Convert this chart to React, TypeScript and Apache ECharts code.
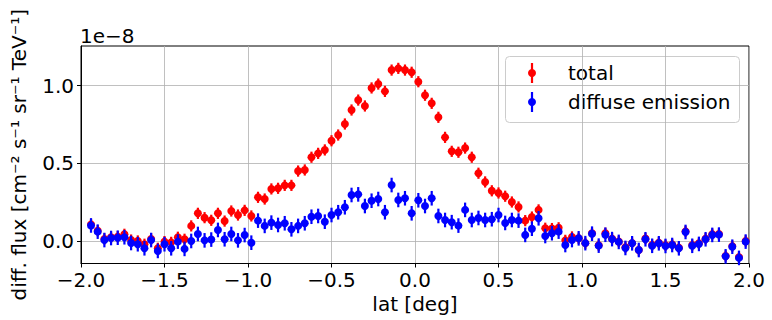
import React, { useEffect, useRef } from "react";
import * as echarts from "echarts";

const lat = [
  -1.94, -1.9, -1.86, -1.82, -1.78, -1.74, -1.7, -1.66, -1.62, -1.58, -1.54, -1.5, -1.46, -1.42, -1.38, -1.34,
  -1.3, -1.26, -1.22, -1.18, -1.14, -1.1, -1.06, -1.02, -0.98, -0.94, -0.9, -0.86, -0.82, -0.78, -0.74, -0.7,
  -0.66, -0.62, -0.58, -0.54, -0.5, -0.46, -0.42, -0.38, -0.34, -0.3, -0.26, -0.22, -0.18, -0.14, -0.1, -0.06,
  -0.02, 0.02, 0.06, 0.1, 0.14, 0.18, 0.22, 0.26, 0.3, 0.34, 0.38, 0.42, 0.46, 0.5, 0.54, 0.58, 0.62, 0.66, 0.7,
  0.74, 0.78, 0.82, 0.86, 0.9, 0.94, 0.98, 1.02, 1.06, 1.1, 1.14, 1.18, 1.22, 1.26, 1.3, 1.34, 1.38, 1.42, 1.46,
  1.5, 1.54, 1.58, 1.62, 1.66, 1.7, 1.74, 1.78, 1.82, 1.86, 1.9, 1.94, 1.98,
];

// values in units of 1e-8 cm^-2 s^-1 sr^-1 TeV^-1
const total = [
  0.107, 0.066, 0.013, 0.024, 0.028, 0.043, 0.006, 0.0, -0.021, 0.013, -0.047, -0.004, -0.009, 0.024, 0.011, 0.097,
  0.178, 0.15, 0.133, 0.178, 0.128, 0.193, 0.167, 0.197, 0.161, 0.281, 0.27, 0.335, 0.339, 0.358, 0.358, 0.45,
  0.457, 0.539, 0.564, 0.586, 0.645, 0.682, 0.753, 0.843, 0.907, 0.869, 0.985, 1.01, 0.963, 1.1, 1.111, 1.1,
  1.086, 1.025, 0.938, 0.886, 0.796, 0.667, 0.577, 0.571, 0.598, 0.539, 0.436, 0.38, 0.323, 0.309, 0.288, 0.251,
  0.219, 0.131, 0.154, 0.2, 0.082, 0.08, 0.085, 0.004, 0.026, 0.017, -0.014, 0.05, -0.028, 0.05, 0.015, -0.003,
  -0.04, -0.014, -0.058, 0.016, -0.025, -0.012, -0.028, -0.022, -0.043, 0.062, -0.026, -0.015, 0.015, 0.044,
  0.045, -0.097, -0.033, -0.104, 0.0,
];

const diffuse = [
  0.1, 0.06, 0.006, 0.019, 0.021, 0.024, -0.013, -0.021, -0.047, 0.006, -0.064, -0.021, -0.047, -0.004, -0.051, 0.0,
  0.045, 0.004, 0.009, 0.071, 0.011, 0.045, 0.004, 0.038, -0.011, 0.131, 0.097, 0.118, 0.103, 0.114, 0.075, 0.097,
  0.114, 0.156, 0.161, 0.124, 0.167, 0.185, 0.217, 0.296, 0.3, 0.225, 0.259, 0.27, 0.185, 0.36, 0.264, 0.275,
  0.178, 0.262, 0.225, 0.275, 0.161, 0.135, 0.121, 0.099, 0.2, 0.135, 0.148, 0.135, 0.14, 0.167, 0.116, 0.135,
  0.131, 0.039, 0.079, 0.146, 0.032, 0.05, 0.06, -0.026, 0.006, 0.017, -0.014, 0.047, -0.03, 0.04, 0.012, -0.006,
  -0.045, -0.015, -0.058, 0.011, -0.031, -0.015, -0.032, -0.026, -0.047, 0.058, -0.031, -0.019, 0.011, 0.039,
  0.041, -0.099, -0.037, -0.109, -0.004,
];

const totalErr = 0.036;
const diffuseErr = 0.047;

const yTicks = [0, 0.5, 1.0];

const FONT = "DejaVu Sans";
const FS = 20;
const fmt = (v: number) => v.toFixed(1).replace("-", "\u2212");

function errSeries(name: string, vals: number[], err: number, color: string) {
  return {
    type: "custom",
    name,
    data: lat.map((x, i) => [x, vals[i], err]),
    renderItem: (params: any, api: any) => {
      const x = api.value(0);
      const y = api.value(1);
      const e = api.value(2);
      const p = api.coord([x, y]);
      const t = api.coord([x, y + e]);
      const b = api.coord([x, y - e]);
      return {
        type: "group",
        children: [
          { type: "line", shape: { x1: p[0], y1: t[1], x2: p[0], y2: b[1] }, style: { stroke: color, lineWidth: 2.2 } },
          { type: "circle", shape: { cx: p[0], cy: p[1], r: 4 }, style: { fill: color } },
        ],
      };
    },
  };
}

export default function App() {
  const ref = useRef<HTMLDivElement>(null);
  useEffect(() => {
    if (!ref.current) return;
    const chart = echarts.init(ref.current, null, { renderer: "svg" });
    const legendEntry = (y: number, color: string, label: string) => [
      { type: "line", shape: { x1: 532, y1: y - 10, x2: 532, y2: y + 10 }, style: { stroke: color, lineWidth: 2.2 } },
      { type: "circle", shape: { cx: 532, cy: y, r: 4 }, style: { fill: color } },
      {
        type: "text",
        x: 568,
        y: y,
        style: { text: label, font: `${FS}px '${FONT}'`, fill: "#000", textVerticalAlign: "middle" },
      },
    ];
    chart.setOption({
      animation: false,
      grid: {
        left: 81,
        top: 46,
        right: 23,
        bottom: 56.5,
        show: true,
        borderColor: "#000",
        borderWidth: 1,
        backgroundColor: "transparent",
        outerBoundsMode: "none",
        containLabel: false,
      },
      xAxis: {
        type: "value",
        min: -2,
        max: 2,
        interval: 0.5,
        name: "lat [deg]",
        nameLocation: "middle",
        nameGap: 24,
        nameTextStyle: { fontFamily: FONT, fontSize: FS, color: "#000" },
        axisLine: { show: true, onZero: false, lineStyle: { color: "#000", width: 1 } },
        axisTick: { show: true, inside: false, length: 4, lineStyle: { color: "#000" } },
        axisLabel: { fontFamily: FONT, fontSize: FS, color: "#000", margin: 6, formatter: fmt },
        splitLine: { show: true, lineStyle: { color: "#b0b0b0", width: 0.8 } },
      },
      yAxis: {
        type: "value",
        min: -0.145,
        max: 1.255,
        name: "diff. flux [cm\u207B\u00B2 s\u207B\u00B9 sr\u207B\u00B9 TeV\u207B\u00B9]",
        nameLocation: "middle",
        nameRotate: 90,
        nameGap: 52,
        nameTextStyle: { fontFamily: FONT, fontSize: FS, color: "#000" },
        axisLine: { show: true, onZero: false, lineStyle: { color: "#000", width: 1 } },
        axisTick: { show: true, inside: false, length: 4, lineStyle: { color: "#000" }, customValues: yTicks },
        axisLabel: { fontFamily: FONT, fontSize: FS, color: "#000", margin: 7, formatter: fmt, customValues: yTicks },
        splitLine: { show: true, lineStyle: { color: "#b0b0b0", width: 0.8 } },
      },
      graphic: [
        {
          type: "text",
          left: 80,
          top: 26,
          style: { text: "1e\u22128", font: `${FS}px '${FONT}'`, fill: "#000" },
        },
        {
          type: "group",
          z: 100,
          children: [
            {
              type: "rect",
              shape: { x: 505.5, y: 56.5, width: 234, height: 66, r: 4 },
              style: { fill: "rgba(255,255,255,0.8)", stroke: "#cccccc", lineWidth: 1 },
            },
            ...legendEntry(73, "#ff0000", "total"),
            ...legendEntry(102, "#0000ff", "diffuse emission"),
          ],
        },
      ],
      series: [errSeries("total", total, totalErr, "#ff0000"), errSeries("diffuse emission", diffuse, diffuseErr, "#0000ff")],
    });
    return () => chart.dispose();
  }, []);
  return <div ref={ref} style={{ width: 772, height: 320, position: "absolute", left: 0, top: 0, background: "#fff" }} />;
}
